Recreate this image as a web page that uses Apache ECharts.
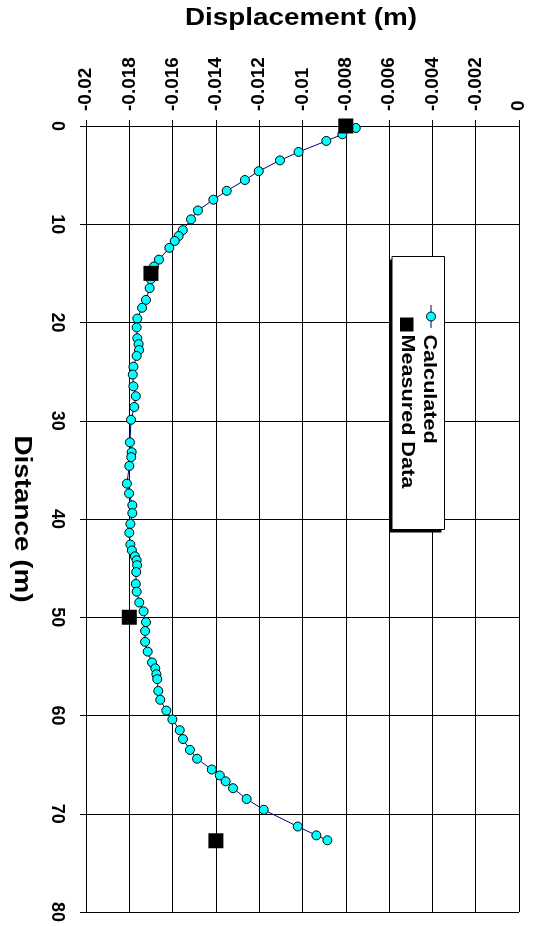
<!DOCTYPE html>
<html>
<head>
<meta charset="utf-8">
<script src="https://cdn.jsdelivr.net/npm/echarts@6/dist/echarts.min.js"></script>
<style>
html,body{margin:0;padding:0;background:#fff;}
#chart{width:536px;height:926px;}
</style>
</head>
<body>
<div id="chart"></div>
<script>
// Calculated: distance (m) and displacement (m)
const calcDistance = [0.2,0.84,1.52,2.64,3.5,4.6,5.5,6.6,7.5,8.6,9.5,10.6,11.2,11.7,12.4,13.6,14.3,15.6,16.5,17.7,18.5,19.6,20.5,21.6,22.2,22.8,23.4,24.5,25.3,26.5,27.5,28.6,29.9,32.2,33.2,33.7,34.6,36.4,37.4,38.6,39.4,40.5,41.4,42.6,43.2,43.8,44.2,44.7,45.4,46.6,47.4,48.5,49.4,50.5,51.4,52.5,53.5,54.6,55.2,55.8,56.3,57.5,58.4,59.5,60.4,61.5,62.4,63.5,64.4,65.5,66.1,66.7,67.4,68.5,69.6,71.3,72.2,72.7];
const calcDisp = [-0.00754,-0.00816,-0.0089,-0.01018,-0.01104,-0.01202,-0.01266,-0.0135,-0.01412,-0.01483,-0.01515,-0.01553,-0.01572,-0.0159,-0.01615,-0.01663,-0.01686,-0.01701,-0.01706,-0.01723,-0.01741,-0.01763,-0.01766,-0.01763,-0.01757,-0.01755,-0.01766,-0.01781,-0.01784,-0.01781,-0.0177,-0.01777,-0.01792,-0.01797,-0.01789,-0.01791,-0.018,-0.01811,-0.01801,-0.01786,-0.01786,-0.01795,-0.018,-0.01795,-0.01788,-0.01774,-0.01766,-0.01764,-0.01768,-0.0177,-0.01766,-0.01754,-0.01734,-0.01723,-0.01727,-0.01727,-0.01715,-0.01695,-0.0168,-0.01675,-0.01671,-0.01666,-0.01657,-0.01629,-0.01601,-0.01567,-0.01552,-0.0152,-0.01487,-0.01419,-0.01382,-0.01355,-0.01321,-0.01258,-0.01179,-0.01022,-0.00936,-0.00885];
// Measured data
const measDistance = [0, 15, 50, 72.75];
const measDisp = [-0.008, -0.017, -0.018, -0.014];
// Tick labels
const dispTicks = ['-0.02','-0.018','-0.016','-0.014','-0.012','-0.01','-0.008','-0.006','-0.004','-0.002','0'];
const distTicks = ['0','10','20','30','40','50','60','70','80'];

const FONT = '"Liberation Sans", Arial, sans-serif';
const calcData = calcDistance.map((d, i) => [calcDisp[i], d]);
const measData = measDistance.map((d, i) => [measDisp[i], d]);

const dispMin = Number(dispTicks[0]), dispMax = Number(dispTicks[dispTicks.length - 1]);
const dispStep = Number(dispTicks[1]) - Number(dispTicks[0]);
const distMin = Number(distTicks[0]), distMax = Number(distTicks[distTicks.length - 1]);
const distStep = Number(distTicks[1]) - Number(distTicks[0]);

function nearestLabel(list, v) {
  let best = list[0], bd = Infinity;
  list.forEach(s => { const d = Math.abs(Number(s) - v); if (d < bd) { bd = d; best = s; } });
  return best;
}

const chart = echarts.init(document.getElementById('chart'), null, {renderer: 'canvas'});
chart.setOption({
  backgroundColor: '#ffffff',
  animation: false,
  grid: {left: 86, right: 17, top: 126, bottom: 14, containLabel: false},
  xAxis: {
    type: 'value', position: 'top',
    min: dispMin, max: dispMax, interval: dispStep,
    axisLine: {show: true, onZero: false, lineStyle: {color: '#000', width: 1}},
    axisTick: {show: true, inside: false, length: 6, lineStyle: {color: '#000', width: 1}},
    axisLabel: {
      rotate: -90, margin: 15, color: '#000', fontSize: 19, fontWeight: 'bold', fontFamily: FONT,
      formatter: v => nearestLabel(dispTicks, v)
    },
    splitLine: {show: true, lineStyle: {color: '#000', width: 1}}
  },
  yAxis: {
    type: 'value', inverse: true, position: 'left',
    min: distMin, max: distMax, interval: distStep,
    axisLine: {show: true, onZero: false, lineStyle: {color: '#000', width: 1}},
    axisTick: {show: true, inside: false, length: 6, lineStyle: {color: '#000', width: 1}},
    axisLabel: {
      rotate: -90, margin: 20, color: '#000', fontSize: 18, fontWeight: 'bold', fontFamily: FONT,
      formatter: v => nearestLabel(distTicks, v)
    },
    splitLine: {show: true, lineStyle: {color: '#000', width: 1}}
  },
  series: [
    {
      name: 'Calculated', type: 'line', data: calcData, clip: false,
      symbol: 'circle', symbolSize: 9,
      lineStyle: {color: '#000080', width: 1},
      itemStyle: {color: '#00FFFF', borderColor: '#000', borderWidth: 1, opacity: 1},
      z: 3
    },
    {
      name: 'Measured Data', type: 'scatter', data: measData, clip: false,
      symbol: 'rect', symbolSize: 15,
      itemStyle: {color: '#000', opacity: 1},
      z: 4
    }
  ],
  graphic: [
    {type: 'text', x: 301, y: 18.5, scaleX: 1.21, z: 10,
     style: {text: 'Displacement (m)', font: 'bold 23px ' + FONT, fill: '#000', textAlign: 'center', textVerticalAlign: 'middle'}},
    {type: 'text', x: 21, y: 519, rotation: -Math.PI / 2, scaleX: 1.21, z: 10,
     style: {text: 'Distance (m)', font: 'bold 23px ' + FONT, fill: '#000', textAlign: 'center', textVerticalAlign: 'middle'}},
    // legend box with shadow
    {type: 'rect', shape: {x: 389, y: 259.5, width: 52.5, height: 273}, style: {fill: '#000'}, z: 10},
    {type: 'rect', shape: {x: 392, y: 256.5, width: 52.5, height: 273}, style: {fill: '#fff', stroke: '#000', lineWidth: 1}, z: 11},
    {type: 'line', shape: {x1: 431, y1: 305, x2: 431, y2: 328}, style: {stroke: '#000080', lineWidth: 1}, z: 12},
    {type: 'circle', shape: {cx: 431, cy: 316.5, r: 4.5}, style: {fill: '#00FFFF', stroke: '#000', lineWidth: 1}, z: 13},
    {type: 'rect', shape: {x: 400, y: 317.5, width: 13.5, height: 14}, style: {fill: '#000'}, z: 12},
    {type: 'text', x: 429, y: 334.5, rotation: -Math.PI / 2, scaleX: 1.2, z: 12,
     style: {text: 'Calculated', font: 'bold 18px ' + FONT, fill: '#000', textAlign: 'left', textVerticalAlign: 'middle'}},
    {type: 'text', x: 406.5, y: 334.5, rotation: -Math.PI / 2, scaleX: 1.2, z: 12,
     style: {text: 'Measured Data', font: 'bold 18px ' + FONT, fill: '#000', textAlign: 'left', textVerticalAlign: 'middle'}}
  ]
});
</script>
</body>
</html>
